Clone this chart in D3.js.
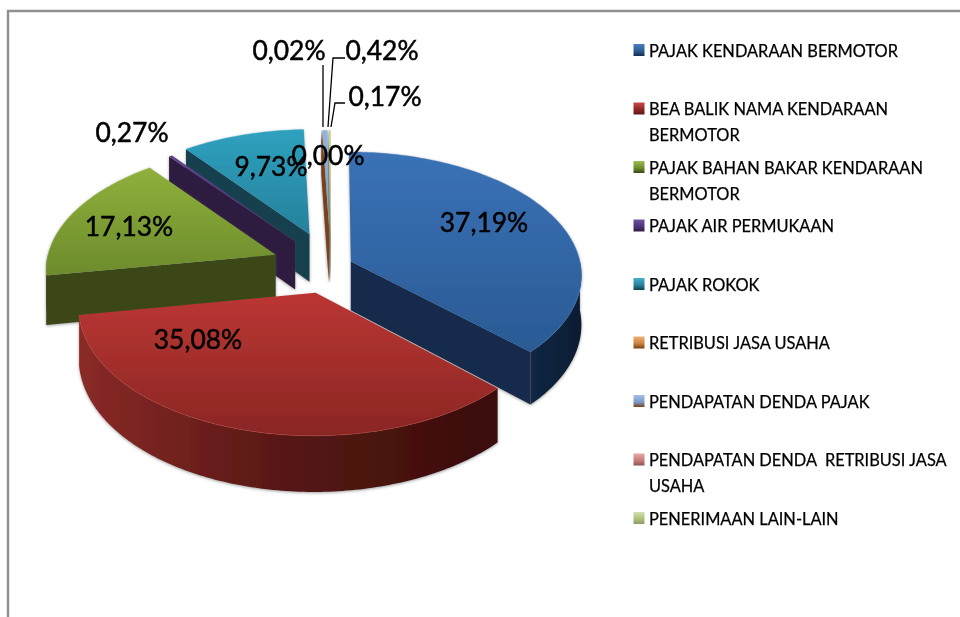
<!DOCTYPE html>
<html>
<head>
<meta charset="utf-8">
<title>Pie 3D</title>
<script src="https://d3js.org/d3.v7.min.js"></script>
<style>
  html, body { margin: 0; padding: 0; background: #fff; }
  svg { display: block; }
  text { font-family: Lato, "Open Sans", sans-serif; fill: #000; }
</style>
</head>
<body>
<div id="chart"></div>
<script type="text/javascript">
// data
const categories = [
  "PAJAK KENDARAAN BERMOTOR",
  "BEA BALIK NAMA KENDARAAN BERMOTOR",
  "PAJAK BAHAN BAKAR KENDARAAN BERMOTOR",
  "PAJAK AIR PERMUKAAN",
  "PAJAK ROKOK",
  "RETRIBUSI JASA USAHA",
  "PENDAPATAN DENDA PAJAK",
  "PENDAPATAN DENDA  RETRIBUSI JASA USAHA",
  "PENERIMAAN LAIN-LAIN"
];
const values = [37.19, 35.08, 17.13, 0.27, 9.73, 0.02, 0.42, 0.00, 0.17];
const legendLines = [
  ["PAJAK KENDARAAN BERMOTOR"],
  ["BEA BALIK NAMA KENDARAAN", "BERMOTOR"],
  ["PAJAK BAHAN BAKAR KENDARAAN", "BERMOTOR"],
  ["PAJAK AIR PERMUKAAN"],
  ["PAJAK ROKOK"],
  ["RETRIBUSI JASA USAHA"],
  ["PENDAPATAN DENDA PAJAK"],
  ["PENDAPATAN DENDA  RETRIBUSI JASA", "USAHA"],
  ["PENERIMAAN LAIN-LAIN"]
];

// styling and layout, separate from the values
const explode = [0.094, 0.224, 0.26, 0.26, 0.285, 0.26, 0.26, 0.26, 0.26];
const topColors = [
  ["#3a72b6", "#2a5a94"], ["#bb3633", "#8a2624"], ["#8fb03c", "#6c8b2c"],
  ["#5f4290", "#4d3478"], ["#2ea1bf", "#26819b"], ["#e8a468", "#c9803c"],
  ["#93b2de", "#7a9acb"], ["#e09a98", "#c87a78"], ["#c6d79c", "#a9bf78"]
];
const faceColors = ["#162b4b", "#5e1815", "#3a4618", "#2f1e3f", "#123f4e", "#7a3f12", "#7a3f12", "#8a5554", "#8f9c6c"];
const wallStops = [
  ["#122744", "#0f2139", "#0e1e34"],
  ["#8a2a27", "#561714", "#3a0d0a"],
  ["#3a4618", "#3a4618", "#3a4618"],
  ["#2f1e3f", "#2f1e3f", "#2f1e3f"],
  ["#123f4e", "#123f4e", "#123f4e"],
  ["#7a3f12", "#7a3f12", "#7a3f12"],
  ["#6a7f9f", "#6a7f9f", "#6a7f9f"],
  ["#8a5554", "#8a5554", "#8a5554"],
  ["#7f8c5c", "#7f8c5c", "#7f8c5c"]
];
const rimColors = ["#4a80bf", "#cb4a46", "#9fbd50", "#6f52a0", "#46b0cb", "#eeb078", "#a3bfe6", "#e6a8a6", "#d3e0ad"];
const paintOrder = [4, 3, 5, 6, 7, 8, 2, 0, 1];
const labelPos = [[484, 222], [198, 339], [129, 226], [132, 132], [271, 166], [289, 50], [382, 50], [328, 155], [385, 96]];
const leaders = [
  { elbow: [323, 65], end: [323, 127] },
  { start: [345, 58], elbow: [333, 58], end: [328, 127] },
  { start: [345, 103], elbow: [335, 103], end: [331, 127] }
];

const width = 960, height = 617;
const cx = 331, cy = 266, rx = 230, ry = 122, persp = 0.105, depth = 49;

const svg = d3.select("#chart").append("svg")
  .attr("width", width).attr("height", height);
const defs = svg.append("defs");

// soft grey shadow round the slices
const shadow = defs.append("filter").attr("id", "shadow")
  .attr("x", "-10%").attr("y", "-10%").attr("width", "120%").attr("height", "120%");
shadow.append("feDropShadow")
  .attr("dx", 0).attr("dy", 1).attr("stdDeviation", 1.6)
  .attr("flood-color", "#555").attr("flood-opacity", 0.55);

// the reference is a slightly soft screenshot
const soft = defs.append("filter").attr("id", "soft");
soft.append("feGaussianBlur").attr("stdDeviation", 0.4);

// plane point -> screen, a little perspective so the near side is larger
function project(u, v, z) {
  const s = 1 / (1 - persp * v);
  return [cx + rx * u * s, cy + ry * v * s + depth * s * z];
}

const pie = d3.pie().sort(null).value(d => d);
const arcs = pie(values);
const line = d3.line();

// border of the frame
svg.append("path")
  .attr("d", line([[8, 617], [8, 11], [960, 11]]))
  .attr("fill", "none").attr("stroke", "#8f8f8f").attr("stroke-width", 2.4);

function ringPoints(a0, a1, ox, oy, z) {
  const n = Math.max(2, Math.ceil((a1 - a0) * 60));
  return d3.range(n + 1).map(i => {
    const a = a0 + (a1 - a0) * i / n;
    return project(ox + Math.sin(a), oy - Math.cos(a), z);
  });
}

arcs.forEach((d, i) => {
  const g = defs.append("linearGradient").attr("id", "top" + i)
    .attr("x1", 0).attr("y1", 0).attr("x2", 0).attr("y2", 1);
  g.append("stop").attr("offset", 0).attr("stop-color", topColors[i][0]);
  g.append("stop").attr("offset", 1).attr("stop-color", topColors[i][1]);
  const w = defs.append("linearGradient").attr("id", "wall" + i)
    .attr("x1", 0).attr("y1", 0).attr("x2", 1).attr("y2", 0);
  wallStops[i].forEach((c, j) => {
    w.append("stop").attr("offset", j / 2).attr("stop-color", c);
  });
  // legend marker, light top edge running down to a darker foot
  const m = defs.append("linearGradient").attr("id", "marker" + i)
    .attr("x1", 0).attr("y1", 0).attr("x2", 0).attr("y2", 1);
  m.append("stop").attr("offset", 0).attr("stop-color", rimColors[i]);
  m.append("stop").attr("offset", 0.6).attr("stop-color", topColors[i][1]);
  m.append("stop").attr("offset", 1).attr("stop-color", faceColors[i]);
});

const pieG = svg.append("g").attr("filter", "url(#soft)");
paintOrder.forEach(i => {
  const d = arcs[i];
  const mid = (d.startAngle + d.endAngle) / 2;
  const ox = explode[i] * Math.sin(mid), oy = -explode[i] * Math.cos(mid);
  const g = pieG.append("g").attr("filter", "url(#shadow)");

  // cut faces, only the ones turned toward the viewer
  [[d.startAngle, d.startAngle - Math.PI / 2], [d.endAngle, d.endAngle + Math.PI / 2]].forEach(f => {
    if (-Math.cos(f[1]) > 0.01) {
      const e = [ox + Math.sin(f[0]), oy - Math.cos(f[0])];
      g.append("path")
        .attr("d", line([project(ox, oy, 0), project(e[0], e[1], 0), project(e[0], e[1], 1), project(ox, oy, 1)]) + "Z")
        .attr("fill", faceColors[i]);
    }
  });

  // outer wall between the 3 and 9 o'clock points
  const w0 = Math.max(d.startAngle, Math.PI / 2), w1 = Math.min(d.endAngle, Math.PI * 1.5);
  if (w1 > w0) {
    const upper = ringPoints(w0, w1, ox, oy, 0);
    const lower = ringPoints(w0, w1, ox, oy, 1).reverse();
    g.append("path")
      .attr("d", line(upper.concat(lower)) + "Z")
      .attr("fill", "url(#wall" + i + ")");
  }

  // top surface with a thin lit rim along the outer edge
  const rim = ringPoints(d.startAngle, d.endAngle, ox, oy, 0);
  g.append("path")
    .attr("d", line([project(ox, oy, 0)].concat(rim)) + "Z")
    .attr("fill", "url(#top" + i + ")");
  if (d.endAngle - d.startAngle > 0.1) {
    g.append("path")
      .attr("d", line(rim))
      .attr("fill", "none").attr("stroke", rimColors[i]).attr("stroke-width", 1).attr("stroke-opacity", 0.4);
  }
});

// leader lines
leaders.forEach(l => {
  const pts = (l.start ? [l.start] : []).concat([l.elbow, l.end]);
  svg.append("path").attr("d", line(pts))
    .attr("fill", "none").attr("stroke", "#000").attr("stroke-width", 1.3);
});

// data labels
svg.append("g").attr("filter", "url(#soft)").selectAll("text")
  .data(values)
  .join("text")
  .attr("x", (d, i) => labelPos[i][0])
  .attr("y", (d, i) => labelPos[i][1])
  .attr("text-anchor", "middle")
  .attr("dominant-baseline", "central")
  .attr("font-size", 26.4)
  .attr("stroke", "#000").attr("stroke-width", 0.5)
  .text(d => d.toFixed(2).replace(".", ",") + "%");

// legend
const legendY = d3.scalePoint().domain(categories).range([50, 518]);
const legend = svg.append("g").attr("filter", "url(#soft)").selectAll("g")
  .data(categories)
  .join("g")
  .attr("transform", d => "translate(0," + legendY(d) + ")");
legend.append("rect")
  .attr("x", 633.5).attr("y", -6).attr("width", 11).attr("height", 12)
  .attr("fill", (d, i) => "url(#marker" + i + ")");
legend.each(function(d, i) {
  d3.select(this).selectAll("text")
    .data(legendLines[i])
    .join("text")
    .attr("x", 649)
    .attr("y", (t, j) => j * 26)
    .attr("dominant-baseline", "central")
    .attr("font-size", 16.4)
    .attr("stroke", "#000").attr("stroke-width", 0.25)
    .style("white-space", "pre")
    .text(t => t);
});
</script>
</body>
</html>
